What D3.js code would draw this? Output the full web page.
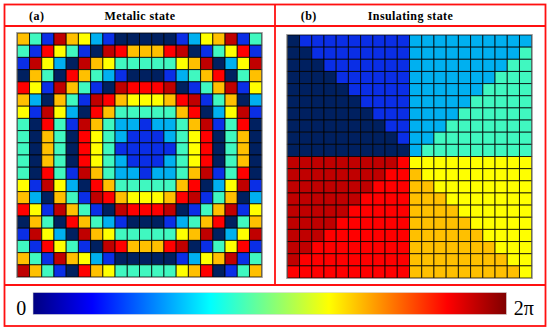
<!DOCTYPE html>
<html><head><meta charset="utf-8">
<script src="https://cdn.jsdelivr.net/npm/d3@7/dist/d3.min.js"></script>
<style>html,body{margin:0;padding:0;background:#fff;} svg{display:block;}</style>
</head><body>
<svg id="chart" width="550" height="332"></svg>
<script>
// ---- data ----
const panelLabels = ["(a)", "(b)"];
const panelTitles = ["Metalic state", "Insulating state"];
// phase level index 0..7  (0 .. 7π/4)
const phaseLevels = [0, 1, 2, 3, 4, 5, 6, 7];
const phaseColors = ["#002060", "#0a2ee6", "#00b0f0", "#40f8c0", "#ffff00", "#ffc000", "#ff0000", "#c00000"];
// metallic state: 20 rows x 20 columns of phase level indices
const metallicRows = [
  "53175421000001245713",
  "31643107655567013461",
  "17420754333334570247",
  "05306532100012356035",
  "64175310766670135714",
  "52053176544456713502",
  "41742065333335602471",
  "30631753221223571360",
  "30530643211123460350",
  "30530643111113460350",
  "30530643211123460350",
  "30631753221223571360",
  "41742065333335602471",
  "52053176544456713502",
  "64175310766670135714",
  "05306532100012356035",
  "17420754333334570247",
  "31643107655567013461",
  "53175421000001245713",
  "75310654333334560135"
];
// insulating state: 20 rows x 20 columns of phase level indices
const insulatingRows = [
  "01111111112222222222",
  "00111111112222222223",
  "00011111112222222233",
  "00001111112222222333",
  "00000111112222223333",
  "00000011112222233333",
  "00000001112222333333",
  "00000000112223333333",
  "00000000012233333333",
  "00000000002333333333",
  "77777777764444444444",
  "77777777665444444444",
  "77777776665544444444",
  "77777766665554444444",
  "77777666665555444444",
  "77776666665555544444",
  "77766666665555554444",
  "77666666665555555444",
  "76666666665555555544",
  "66666666665555555554"
];
const colorbarStops = [0, 0.125, 0.375, 0.625, 0.875, 1];
const colorbarColors = ["#000080", "#0000ff", "#00ffff", "#ffff00", "#ff0000", "#800000"];
const colorbarLabels = ["0", "2π"];

// ---- drawing ----
const svg = d3.select("#chart");
const frame = {x0: 4.5, x1: 545.5, y0: 4.5, yHead: 26, yPanel: 285, y1: 326, xMid: 275};
const serif = "'Liberation Serif','Times New Roman',serif";

const color = d3.scaleOrdinal().domain(phaseLevels).range(phaseColors);

function toMatrix(rows) {
  const cells = [];
  rows.forEach((row, r) => row.split("").forEach((ch, c) => cells.push({r, c, v: +ch})));
  return cells;
}

const grids = [
  {rows: metallicRows, x: [17.3, 261.7], y: [33, 277], labelX: 36.7, titleX: 140},
  {rows: insulatingRows, x: [287.3, 531.7], y: [35, 278], labelX: 308.8, titleX: 410.5}
];

grids.forEach((g, i) => {
  const n = g.rows.length, m = g.rows[0].length;
  const xs = d3.scaleBand().domain(d3.range(m)).range(g.x);
  const ys = d3.scaleBand().domain(d3.range(n)).range(g.y);
  const grp = svg.append("g");
  grp.selectAll("rect.cell").data(toMatrix(g.rows)).join("rect")
    .attr("class", "cell")
    .attr("x", d => xs(d.c)).attr("y", d => ys(d.r))
    .attr("width", xs.bandwidth()).attr("height", ys.bandwidth())
    .attr("fill", d => color(d.v))
    .attr("stroke", "rgba(0,0,0,0.78)").attr("stroke-width", 1);
  grp.append("rect")
    .attr("x", g.x[0] - 0.5).attr("y", g.y[0] - 0.5)
    .attr("width", g.x[1] - g.x[0] + 1).attr("height", g.y[1] - g.y[0] + 1)
    .attr("fill", "none").attr("stroke", "#9a9a9a").attr("stroke-width", 1);

  svg.append("text").attr("x", g.labelX).attr("y", 19.5)
    .attr("text-anchor", "middle").attr("font-family", serif).attr("font-weight", "bold")
    .attr("font-size", 12).attr("letter-spacing", 0.4).text(panelLabels[i]);
  svg.append("text").attr("x", g.titleX).attr("y", 19.5)
    .attr("text-anchor", "middle").attr("font-family", serif).attr("font-weight", "bold")
    .attr("font-size", 12).attr("letter-spacing", 0.4).text(panelTitles[i]);
});

// colorbar
const defs = svg.append("defs");
const grad = defs.append("linearGradient").attr("id", "jet").attr("x1", "0%").attr("x2", "100%");
colorbarStops.forEach((s, i) => grad.append("stop").attr("offset", s).attr("stop-color", colorbarColors[i]));
const cbX = d3.scaleLinear().domain([0, 2 * Math.PI]).range([33, 506.5]);
svg.append("rect").attr("x", cbX(0)).attr("y", 292.5)
  .attr("width", cbX(2 * Math.PI) - cbX(0)).attr("height", 22)
  .attr("fill", "url(#jet)").attr("stroke", "#d8d8d8").attr("stroke-width", 0.6);
svg.append("text").attr("x", 21.3).attr("y", 314.5).attr("text-anchor", "middle")
  .attr("font-family", serif).attr("font-size", 20).text(colorbarLabels[0]);
svg.append("text").attr("x", 523.8).attr("y", 314.5).attr("text-anchor", "middle")
  .attr("font-family", serif).attr("font-size", 20).text(colorbarLabels[1]);

// red frame
const red = "#ff1010";
const fr = svg.append("g").attr("fill", "none").attr("stroke", red).attr("stroke-width", 1.8);
fr.append("rect").attr("x", frame.x0).attr("y", frame.y0)
  .attr("width", frame.x1 - frame.x0).attr("height", frame.y1 - frame.y0);
fr.append("line").attr("x1", frame.x0).attr("x2", frame.x1).attr("y1", frame.yHead).attr("y2", frame.yHead);
fr.append("line").attr("x1", frame.x0).attr("x2", frame.x1).attr("y1", frame.yPanel).attr("y2", frame.yPanel);
fr.append("line").attr("x1", frame.xMid).attr("x2", frame.xMid).attr("y1", frame.y0).attr("y2", frame.yPanel);
</script>
</body></html>
